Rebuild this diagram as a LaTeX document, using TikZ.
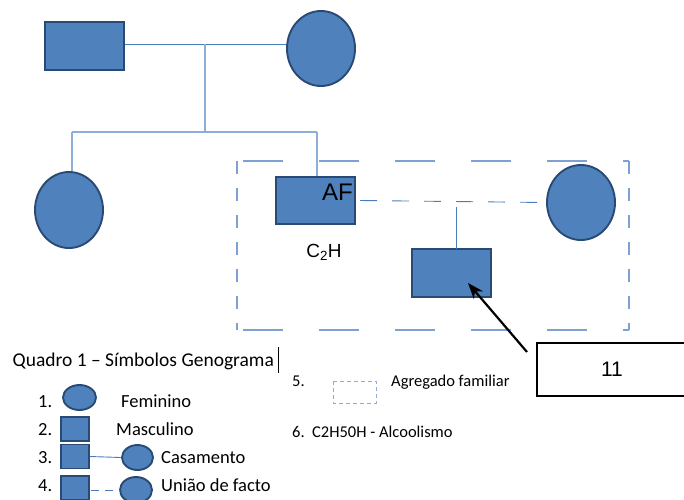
\documentclass[tikz,border=0pt]{standalone}
\usepackage{fontspec}
\setmainfont{Carlito}
\newfontfamily\arialfont{Liberation Sans}
\usetikzlibrary{shapes.geometric,arrows.meta}
\definecolor{gfill}{HTML}{4F81BD}
\definecolor{gedge}{HTML}{294A74}
\definecolor{gline}{HTML}{4A7EBB}
\definecolor{glight}{HTML}{8EAEDA}
\definecolor{gdash}{HTML}{7EA1D4}
\tikzset{
  male/.style={rectangle,draw=gedge,line width=1.9pt,fill=gfill,inner sep=0pt,minimum width=#1},
  male/.default=79pt,
  female/.style={ellipse,draw=gedge,line width=1.9pt,fill=gfill,inner sep=0pt},
  rel/.style={draw=gline,line width=0.9pt},
  sib/.style={draw=glight,line width=1.1pt},
  lbl/.style={inner sep=0pt,anchor=base west,font=\fontsize{18.5}{20}\selectfont},
  sml/.style={inner sep=0pt,anchor=base west,font=\fontsize{16.5}{18}\selectfont},
}
\begin{document}
\begin{tikzpicture}[x=1pt,y=-1pt]
\useasboundingbox (0,0) rectangle (684,499);
\clip (0,0) rectangle (684,499);

% first generation
\node[male,minimum height=48pt] (father) at (84.5,46) {};
\node[female,minimum width=68pt,minimum height=75pt] (mother) at (321,48.5) {};
\draw[rel] (father.east |- 0,44) -- (mother.west |- 0,44);
\coordinate (mid) at (205,44);
\coordinate (sibl) at (72,132);
\coordinate (sibr) at (317,132);
\draw[sib] (mid) -- (205,132);
\draw[sib] (sibl) -- (sibr);

% second generation
\node[female,minimum width=68pt,minimum height=76pt] (daughter) at (69,210) {};
\node[male,minimum height=47pt] (son) at (315.5,200.5) {};
\node[font=\arialfont\fontsize{24}{26}\selectfont,inner sep=0pt,anchor=base east] (af) at (353,200) {AF};
\node[font=\arialfont\fontsize{19}{21}\selectfont,inner sep=0pt,anchor=base] (alc) at (324,257) {C\textsubscript{2}H};
\draw[sib] (sibl) -- (sibl |- daughter.north);
\draw[sib] (sibr) -- (sibr |- son.north);
\node[female,minimum width=68pt,minimum height=75pt] (partner) at (581,202.5) {};
\draw[rel,dash pattern=on 17pt off 15pt] (360,200.5) -- (partner.west);

% third generation
\node[male,minimum height=48pt] (child) at (451.5,273) {};
\draw[rel] (456,207) -- (456,249);

% household frame
\draw[gdash,line width=1.1pt,dash pattern=on 40pt off 36pt,dash phase=-6pt] (237,161) -- (629,161);
\draw[gdash,line width=1.1pt,dash pattern=on 40pt off 36pt,dash phase=-6pt] (237,330) -- (629,330);
\draw[gdash,line width=1.1pt,dash pattern=on 13pt off 14pt] (237,161) -- (237,330);
\draw[gdash,line width=1.1pt,dash pattern=on 13pt off 14pt] (629,161) -- (629,330);

% index case
\node[draw=black,line width=1.5pt,minimum width=150pt,minimum height=53pt,inner sep=0pt,
      font=\arialfont\fontsize{21}{23}\selectfont] (num) at (612,369.5) {11};
\coordinate (tail) at (527,352);
\draw[line width=2.2pt,-{Stealth[length=16pt,width=12pt]}] (tail) -- (468,283);

% symbol key
\node[inner sep=0pt,anchor=base west,font=\fontsize{19.5}{21}\selectfont] (title) at (12.5,366) {Quadro 1 – Símbolos Genograma};
\draw[black,line width=1pt] (278.5,347) -- (278.5,373);

\node[lbl] (n1) at (38,407) {1.};
\node[female,minimum width=33pt,minimum height=25pt] (kf) at (79.5,397.5) {};
\node[lbl] (t1) at (121,407) {Feminino};

\node[lbl] (n2) at (38,435) {2.};
\node[male=28pt,minimum height=24pt] (km) at (75,429) {};
\node[lbl] (t2) at (116,435) {Masculino};

\node[lbl] (n3) at (38,463) {3.};
\node[male=28pt,minimum height=24pt] (cm) at (75,456.5) {};
\node[female,minimum width=31pt,minimum height=25pt] (cf) at (137.5,457.5) {};
\draw[rel] (cm.east) -- (cf.west);
\node[lbl] (t3) at (161,463) {Casamento};

\node[lbl] (n4) at (38,491) {4.};
\node[male=28pt,minimum height=24pt] (um) at (75,488) {};
\node[female,minimum width=32pt,minimum height=26pt] (uf) at (136,490) {};
\draw[rel,dash pattern=on 8pt off 6pt] (91,490.5) -- (uf.west |- 0,490.5);
\node[lbl] (t4) at (161,491) {União de facto};

\node[sml] (n5) at (292,386) {5.};
\draw[glight,line width=0.8pt,dash pattern=on 4pt off 3pt] (333,381) rectangle (376,403);
\node[sml] (t5) at (391,386) {Agregado familiar};

\node[sml] (t6) at (292,437) {6.\ \ C2H50H - Alcoolismo};
\end{tikzpicture}
\end{document}
